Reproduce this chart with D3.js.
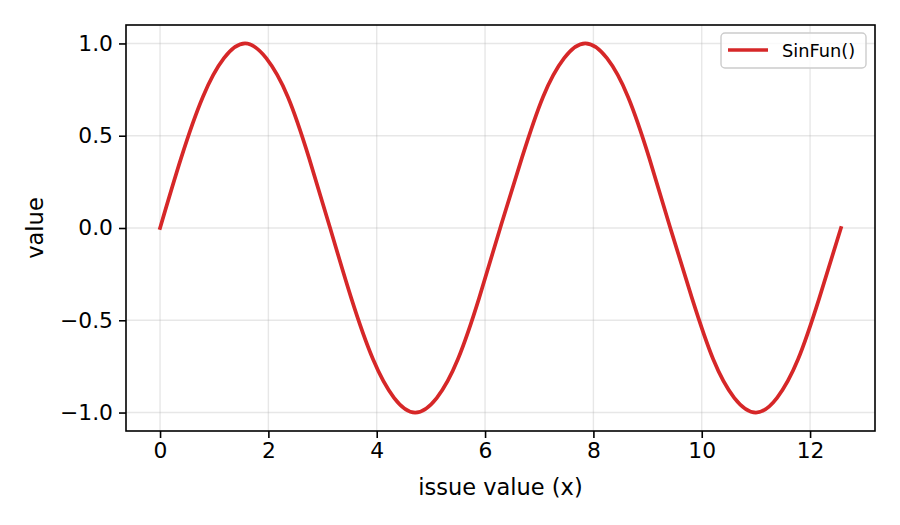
<!DOCTYPE html>
<html>
<head>
<meta charset="utf-8">
<script src="https://cdn.jsdelivr.net/npm/d3@7"></script>
<style>
  body { margin: 0; background: #fff; }
  svg text { font-family: "DejaVu Sans", sans-serif; fill: #000; }
</style>
</head>
<body>
<svg id="chart" width="900" height="525"></svg>
<script>
var xValues = [0, 0.39, 0.79, 1.18, 1.57, 1.96, 2.36, 2.75, 3.14, 3.53, 3.93, 4.32, 4.71,
               5.11, 5.50, 5.89, 6.28, 6.68, 7.07, 7.46, 7.85, 8.25, 8.64, 9.03, 9.42,
               9.82, 10.21, 10.60, 11.00, 11.39, 11.78, 12.17, 12.57];
var yValues = [0, 0.38, 0.71, 0.92, 1, 0.92, 0.71, 0.38, 0, -0.38, -0.71, -0.92, -1,
               -0.92, -0.71, -0.38, 0, 0.38, 0.71, 0.92, 1, 0.92, 0.71, 0.38, 0,
               -0.38, -0.71, -0.92, -1, -0.92, -0.71, -0.38, 0];
var xTicks = [0, 2, 4, 6, 8, 10, 12];
var yTicks = [-1.0, -0.5, 0.0, 0.5, 1.0];
var seriesName = 'SinFun()';
var xTitle = 'issue value (x)';
var yTitle = 'value';

var LEFT = 126, RIGHT = 875, TOP = 25, BOTTOM = 431;
var RED = '#d62728';

var svg = d3.select('#chart');
var points = xValues.map(function(x, i) { return { x: x, y: yValues[i] }; });

var xExt = d3.extent(xValues);
var xPad = (xExt[1] - xExt[0]) * 0.05;
var x = d3.scaleLinear().domain([xExt[0] - xPad, xExt[1] + xPad]).range([LEFT, RIGHT]);
var y = d3.scaleLinear().domain([-1.1, 1.1]).range([BOTTOM, TOP]);

// grid
var grid = svg.append('g');
grid.selectAll('line.gx').data(xTicks).enter().append('line')
    .attr('x1', function(d) { return x(d); }).attr('x2', function(d) { return x(d); })
    .attr('y1', TOP).attr('y2', BOTTOM)
    .attr('stroke', '#b0b0b0').attr('stroke-opacity', 0.3).attr('stroke-width', 1.4);
grid.selectAll('line.gy').data(yTicks).enter().append('line')
    .attr('y1', function(d) { return y(d); }).attr('y2', function(d) { return y(d); })
    .attr('x1', LEFT).attr('x2', RIGHT)
    .attr('stroke', '#b0b0b0').attr('stroke-opacity', 0.3).attr('stroke-width', 1.4);

// the curve
var line = d3.line()
    .x(function(d) { return x(d.x); })
    .y(function(d) { return y(d.y); })
    .curve(d3.curveNatural);
svg.append('path').datum(points)
    .attr('d', line)
    .attr('fill', 'none')
    .attr('stroke', RED)
    .attr('stroke-width', 3.7)
    .attr('stroke-linecap', 'square');

// axes
var xAxis = d3.axisBottom(x).tickValues(xTicks).tickFormat(d3.format('d'))
    .tickSizeInner(7).tickSizeOuter(0).tickPadding(5);
var yAxis = d3.axisLeft(y).tickValues(yTicks).tickFormat(d3.format('.1f'))
    .tickSizeInner(7).tickSizeOuter(0).tickPadding(6);

var gx = svg.append('g').attr('transform', 'translate(0,' + BOTTOM + ')').call(xAxis);
var gy = svg.append('g').attr('transform', 'translate(' + LEFT + ',0)').call(yAxis);
[gx, gy].forEach(function(g) {
    g.select('.domain').remove();
    g.selectAll('.tick line').attr('stroke', '#000').attr('stroke-width', 1.6);
    g.selectAll('.tick text').style('font-size', '21.8px').attr('fill', '#000');
});

// frame
svg.append('rect')
    .attr('x', LEFT).attr('y', TOP)
    .attr('width', RIGHT - LEFT).attr('height', BOTTOM - TOP)
    .attr('fill', 'none').attr('stroke', '#000').attr('stroke-width', 1.6);

// titles
svg.append('text')
    .attr('x', (LEFT + RIGHT) / 2).attr('y', 495)
    .attr('text-anchor', 'middle')
    .style('font-size', '22.5px')
    .text(xTitle);
svg.append('text')
    .attr('transform', 'translate(43,' + ((TOP + BOTTOM) / 2) + ') rotate(-90)')
    .attr('text-anchor', 'middle')
    .style('font-size', '22.5px')
    .text(yTitle);

// legend
var legend = svg.append('g');
legend.append('rect')
    .attr('x', 721).attr('y', 33).attr('width', 145).attr('height', 35).attr('rx', 4)
    .attr('fill', '#fff').attr('fill-opacity', 0.8)
    .attr('stroke', '#cccccc').attr('stroke-width', 1.4);
legend.append('line')
    .attr('x1', 728).attr('x2', 768).attr('y1', 50).attr('y2', 50)
    .attr('stroke', RED).attr('stroke-width', 3.7);
legend.append('text')
    .attr('x', 782).attr('y', 57)
    .style('font-size', '17.8px')
    .text(seriesName);
</script>
</body>
</html>
